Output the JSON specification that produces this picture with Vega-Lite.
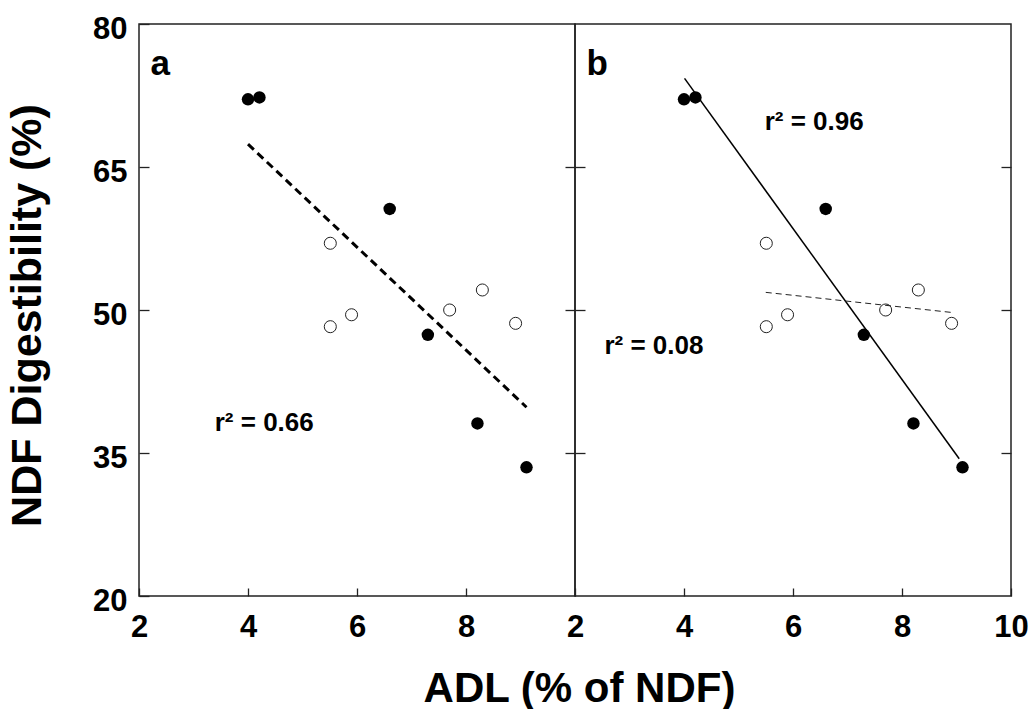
{
  "$schema": "https://vega.github.io/schema/vega-lite/v6.json",
  "padding": {"left": 5, "top": 12, "right": 0, "bottom": 0},
  "spacing": 0,
  "bounds": "flush",
  "config": {
    "font": "Liberation Sans",
    "view": {"stroke": "#222", "strokeWidth": 1.5},
    "axis": {
      "domain": false, "grid": false,
      "labelFont": "Liberation Sans", "labelFontSize": 31, "labelFontWeight": "bold", "labelColor": "#000",
      "tickColor": "#222", "tickWidth": 1.3,
      "titleFont": "Liberation Sans", "titleFontWeight": "bold", "titleColor": "#000"
    }
  },
  "datasets": {
    "pts": [
      {"x": 4.0, "y": 72.1, "type": "filled"},
      {"x": 4.21, "y": 72.3, "type": "filled"},
      {"x": 6.6, "y": 60.6, "type": "filled"},
      {"x": 7.3, "y": 47.4, "type": "filled"},
      {"x": 8.21, "y": 38.1, "type": "filled"},
      {"x": 9.11, "y": 33.5, "type": "filled"},
      {"x": 5.51, "y": 57.0, "type": "open"},
      {"x": 5.51, "y": 48.25, "type": "open"},
      {"x": 5.9, "y": 49.5, "type": "open"},
      {"x": 7.7, "y": 50.0, "type": "open"},
      {"x": 8.3, "y": 52.1, "type": "open"},
      {"x": 8.91, "y": 48.6, "type": "open"}
    ],
    "lines": [
      {"panel": "a", "series": "all", "x": 4.0, "y": 67.4},
      {"panel": "a", "series": "all", "x": 9.11, "y": 39.8},
      {"panel": "b", "series": "filled", "x": 4.01, "y": 74.3},
      {"panel": "b", "series": "filled", "x": 9.05, "y": 34.4},
      {"panel": "b", "series": "open", "x": 5.5, "y": 51.85},
      {"panel": "b", "series": "open", "x": 8.9, "y": 49.75}
    ],
    "labels": [
      {"panel": "a", "kind": "letter", "x": 2.21, "y": 74.65, "text": "a"},
      {"panel": "b", "kind": "letter", "x": 2.21, "y": 74.65, "text": "b"},
      {"panel": "a", "kind": "r2", "x": 3.39, "y": 37.28, "text": "r² = 0.66"},
      {"panel": "b", "kind": "r2", "x": 5.48, "y": 68.91, "text": "r² = 0.96"},
      {"panel": "b", "kind": "r2", "x": 2.54, "y": 45.38, "text": "r² = 0.08"}
    ]
  },
  "hconcat": [
    {
      "width": 436, "height": 572,
      "resolve": {"axis": {"x": "independent", "y": "independent"}},
      "layer": [
        {
          "data": {"name": "pts"},
          "transform": [{"filter": "datum.type == 'filled'"}],
          "mark": {"type": "point", "filled": true, "size": 155, "color": "#000", "opacity": 1},
          "encoding": {
            "x": {"field": "x", "type": "quantitative", "scale": {"domain": [2, 10], "nice": false, "zero": false},
              "axis": {"values": [2, 4, 6, 8], "tickSize": -8, "labelPadding": 24, "labelFlush": false,
                "title": "ADL (% of NDF)", "titleFontSize": 42, "titleX": 440, "titleY": 105, "titleAlign": "center", "titleBaseline": "alphabetic", "titleAnchor": null}},
            "y": {"field": "y", "type": "quantitative", "scale": {"domain": [20, 80], "nice": false, "zero": false},
              "axis": {"orient": "left", "values": [20, 35, 50, 65, 80], "tickSize": -10, "labelPadding": 22, "labelOffset": 5, "labelFlush": false,
                "title": "NDF Digestibility (%)", "titleFontSize": 43, "titleAngle": 270, "titleX": -112, "titleY": 291, "titleAlign": "center", "titleBaseline": "middle"}}
          }
        },
        {
          "data": {"name": "pts"},
          "transform": [{"filter": "datum.type == 'open'"}],
          "mark": {"type": "point", "filled": false, "size": 145, "stroke": "#222", "strokeWidth": 1, "opacity": 1},
          "encoding": {
            "x": {"field": "x", "type": "quantitative", "axis": null},
            "y": {"field": "y", "type": "quantitative", "axis": null}
          }
        },
        {
          "data": {"name": "lines"},
          "transform": [{"filter": "datum.panel == 'a'"}],
          "mark": {"type": "line", "color": "#000", "strokeWidth": 3, "strokeDash": [8, 5]},
          "encoding": {
            "x": {"field": "x", "type": "quantitative", "axis": null},
            "y": {"field": "y", "type": "quantitative",
              "axis": {"orient": "right", "values": [35, 50, 65], "tickSize": -10, "labels": false, "title": null}}
          }
        },
        {
          "data": {"name": "labels"},
          "transform": [{"filter": "datum.panel == 'a' && datum.kind == 'letter'"}],
          "mark": {"type": "text", "fontSize": 35, "fontWeight": "bold", "align": "left", "baseline": "alphabetic", "color": "#000"},
          "encoding": {
            "x": {"field": "x", "type": "quantitative", "axis": null},
            "y": {"field": "y", "type": "quantitative", "axis": null},
            "text": {"field": "text"}
          }
        },
        {
          "data": {"name": "labels"},
          "transform": [{"filter": "datum.panel == 'a' && datum.kind == 'r2'"}],
          "mark": {"type": "text", "fontSize": 26, "fontWeight": "bold", "align": "left", "baseline": "alphabetic", "color": "#000"},
          "encoding": {
            "x": {"field": "x", "type": "quantitative", "axis": null},
            "y": {"field": "y", "type": "quantitative", "axis": null},
            "text": {"field": "text"}
          }
        }
      ]
    },
    {
      "width": 436, "height": 572,
      "resolve": {"axis": {"x": "independent", "y": "independent"}},
      "layer": [
        {
          "data": {"name": "pts"},
          "transform": [{"filter": "datum.type == 'filled'"}],
          "mark": {"type": "point", "filled": true, "size": 155, "color": "#000", "opacity": 1},
          "encoding": {
            "x": {"field": "x", "type": "quantitative", "scale": {"domain": [2, 10], "nice": false, "zero": false},
              "axis": {"values": [2, 4, 6, 8, 10], "tickSize": -8, "labelPadding": 24, "labelFlush": false, "title": null}},
            "y": {"field": "y", "type": "quantitative", "scale": {"domain": [20, 80], "nice": false, "zero": false},
              "axis": {"orient": "left", "values": [35, 50, 65], "tickSize": -10, "labels": false, "title": null}}
          }
        },
        {
          "data": {"name": "pts"},
          "transform": [{"filter": "datum.type == 'open'"}],
          "mark": {"type": "point", "filled": false, "size": 145, "stroke": "#222", "strokeWidth": 1, "opacity": 1},
          "encoding": {
            "x": {"field": "x", "type": "quantitative", "axis": null},
            "y": {"field": "y", "type": "quantitative", "axis": null}
          }
        },
        {
          "data": {"name": "lines"},
          "transform": [{"filter": "datum.panel == 'b' && datum.series == 'filled'"}],
          "mark": {"type": "line", "color": "#000", "strokeWidth": 1.5},
          "encoding": {
            "x": {"field": "x", "type": "quantitative", "axis": null},
            "y": {"field": "y", "type": "quantitative",
              "axis": {"orient": "right", "values": [35, 50, 65], "tickSize": -10, "labels": false, "title": null}}
          }
        },
        {
          "data": {"name": "lines"},
          "transform": [{"filter": "datum.panel == 'b' && datum.series == 'open'"}],
          "mark": {"type": "line", "color": "#222", "strokeWidth": 1, "strokeDash": [6, 4]},
          "encoding": {
            "x": {"field": "x", "type": "quantitative", "axis": null},
            "y": {"field": "y", "type": "quantitative", "axis": null}
          }
        },
        {
          "data": {"name": "labels"},
          "transform": [{"filter": "datum.panel == 'b' && datum.kind == 'letter'"}],
          "mark": {"type": "text", "fontSize": 35, "fontWeight": "bold", "align": "left", "baseline": "alphabetic", "color": "#000"},
          "encoding": {
            "x": {"field": "x", "type": "quantitative", "axis": null},
            "y": {"field": "y", "type": "quantitative", "axis": null},
            "text": {"field": "text"}
          }
        },
        {
          "data": {"name": "labels"},
          "transform": [{"filter": "datum.panel == 'b' && datum.kind == 'r2'"}],
          "mark": {"type": "text", "fontSize": 26, "fontWeight": "bold", "align": "left", "baseline": "alphabetic", "color": "#000"},
          "encoding": {
            "x": {"field": "x", "type": "quantitative", "axis": null},
            "y": {"field": "y", "type": "quantitative", "axis": null},
            "text": {"field": "text"}
          }
        }
      ]
    }
  ]
}
